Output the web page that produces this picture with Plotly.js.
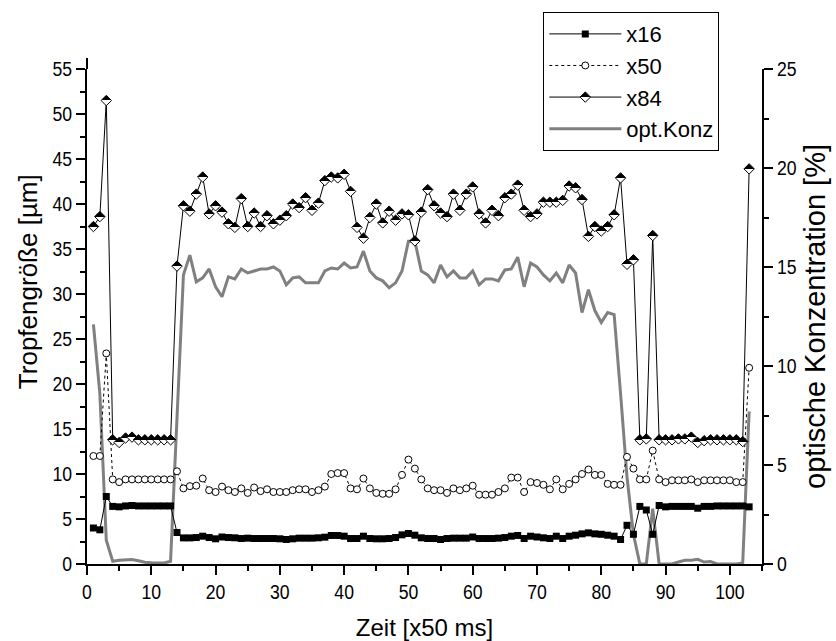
<!DOCTYPE html>
<html>
<head>
<meta charset="utf-8">
<script src="https://cdn.plot.ly/plotly-3.0.1.min.js"></script>
<style>body{margin:0;background:#fff;} #chart{width:836px;height:641px;}</style>
</head>
<body>
<div id="chart"></div>
<script>
// Zeit [x50 ms]
const zeit = Array.from({length: 103}, (_, i) => i + 1);

const x16 = [4.0,3.8,7.5,6.4,6.35,6.45,6.5,6.45,6.45,6.45,6.45,6.45,6.45,3.5,2.9,2.9,2.94,3.09,2.94,2.8,
  3.0,2.94,2.91,2.83,2.87,2.83,2.83,2.83,2.83,2.8,2.72,2.8,2.87,2.87,2.87,2.91,2.98,3.17,3.17,3.09,
  2.83,2.83,3.09,2.83,2.8,2.8,2.83,2.94,3.24,3.39,3.2,2.91,2.83,2.83,2.72,2.83,2.87,2.87,2.87,3.0,
  2.83,2.83,2.83,2.87,2.94,3.09,3.17,2.83,3.09,3.0,2.91,2.83,3.09,2.83,3.09,3.2,3.35,3.46,3.35,3.3,
  3.2,3.09,2.72,4.3,3.3,6.4,6.0,3.3,6.5,6.35,6.4,6.4,6.4,6.4,6.2,6.4,6.4,6.45,6.45,6.45,
  6.45,6.45,6.35];

const x50 = [12.0,12.0,23.4,9.4,9.1,9.4,9.4,9.4,9.4,9.4,9.4,9.4,9.4,10.3,8.4,8.65,8.7,9.5,8.2,8.0,
  8.6,8.2,8.0,8.4,7.9,8.5,8.1,8.3,8.0,8.0,8.0,8.2,8.3,8.3,8.0,8.2,8.6,10.0,10.1,10.1,
  8.4,8.3,9.5,8.4,7.9,7.8,7.8,8.3,9.9,11.6,10.6,9.4,8.4,8.2,8.2,7.9,8.4,8.2,8.4,8.7,
  7.7,7.7,7.7,8.0,8.4,9.6,9.6,8.0,9.1,9.0,8.8,8.3,9.4,8.3,8.9,9.4,10.0,10.5,9.9,9.9,
  8.9,8.8,8.8,11.9,10.6,9.4,9.4,12.6,9.4,9.1,9.3,9.3,9.3,9.4,9.1,9.3,9.3,9.3,9.3,9.3,
  9.1,9.1,21.8];

const x84 = [37.5,38.6,51.5,13.8,13.5,14.0,14.1,13.8,13.8,13.8,13.8,13.8,13.8,33.1,39.8,39.2,41.1,43.0,38.9,39.8,
  39.1,37.8,37.4,40.6,37.5,39.0,37.5,38.7,37.8,38.2,38.7,40.0,39.6,40.7,39.3,40.1,42.6,43.0,42.9,43.3,
  41.4,37.4,36.2,38.5,40.0,37.9,39.2,38.2,38.9,38.8,35.9,39.1,41.6,39.8,39.0,38.6,41.1,39.3,41.1,41.9,
  38.9,37.9,39.3,38.7,40.7,41.1,42.1,39.3,38.6,38.9,40.2,40.2,40.2,40.4,42.0,41.8,40.5,36.4,37.5,37.0,
  37.5,38.8,42.9,33.3,33.8,13.8,13.9,36.5,13.8,13.8,13.8,13.9,13.9,14.1,13.5,13.7,13.8,13.8,13.8,13.8,
  13.8,13.6,43.9];

const optKonz = [12.1,8.6,1.2,0.14,0.19,0.2,0.23,0.16,0.09,0.06,0.05,0.05,0.14,7.5,14.6,15.6,14.25,14.45,14.9,14.0,
  13.5,14.5,14.4,14.9,14.7,14.8,14.9,14.9,15.0,14.8,14.1,14.45,14.5,14.2,14.2,14.2,14.8,14.95,14.9,15.2,
  14.95,15.0,15.8,14.8,14.45,14.3,13.95,14.2,14.8,16.3,16.3,14.8,14.6,14.2,15.1,14.5,14.8,14.45,14.45,14.8,
  14.1,14.4,14.4,14.3,14.85,14.9,15.5,14.0,15.2,15.0,14.6,14.3,14.7,14.2,15.1,14.7,12.7,13.85,12.8,12.2,
  12.7,12.6,8.6,4.4,1.5,0.0,0.0,2.8,0.0,0.0,0.0,0.1,0.19,0.19,0.24,0.1,0.12,0.0,0.0,0.0,
  0.0,0.05,7.7];

const seriesNames = ['x16', 'x50', 'x84', 'opt.Konz'];
const xTitle = 'Zeit [x50 ms]';
const yLeftTitle = 'Tropfengröße [µm]';
const yRightTitle = 'optische Konzentration [%]';

const fam = '"Liberation Sans", Arial, sans-serif';
const tickFont = {family: fam, size: 20, color: '#000'};
const xTitleFont = {family: fam, size: 24, color: '#000'};
const yTitleFont = {family: fam, size: 29, color: '#000'};
const yLeftTitleFont = {family: fam, size: 26, color: '#000'};

const traces = [
  { // drawn first so it sits underneath
    x: zeit, y: optKonz, name: seriesNames[3], yaxis: 'y', mode: 'lines',
    line: {color: '#808080', width: 3}, legendrank: 4
  },
  {
    x: zeit, y: x16, name: seriesNames[0], yaxis: 'y2', mode: 'lines+markers',
    line: {color: '#000', width: 1},
    marker: {symbol: 'square', size: 7, color: '#000'}, legendrank: 1
  },
  {
    x: zeit, y: x50, name: seriesNames[1], yaxis: 'y2', mode: 'lines+markers',
    line: {color: '#000', width: 1, dash: 'dot'},
    marker: {symbol: 'circle', size: 7, color: '#fff', line: {color: '#000', width: 1}}, legendrank: 2
  },
  {
    x: zeit, y: x84, name: seriesNames[2], yaxis: 'y2', mode: 'lines+markers',
    line: {color: '#000', width: 1},
    marker: {symbol: 'diamond', size: 8, color: '#000', gradient: {type: 'vertical', color: '#fff'},
             line: {color: '#000', width: 1}}, legendrank: 3
  }
];

const layout = {
  width: 836, height: 641,
  margin: {l: 87, r: 74, t: 69, b: 77},
  paper_bgcolor: '#fff', plot_bgcolor: '#fff',
  showlegend: true,
  legend: {
    x: 0.676, y: 1.115, xanchor: 'left', yanchor: 'top',
    bordercolor: '#000', borderwidth: 1, bgcolor: '#fff',
    font: {family: fam, size: 22, color: '#000'},
    tracegroupgap: 0, itemwidth: 72
  },
  xaxis: {
    range: [0, 105], dtick: 10, tick0: 0,
    showline: true, linecolor: '#000', linewidth: 2, mirror: false,
    ticks: 'outside', ticklen: 9, tickwidth: 2, tickcolor: '#000',
    minor: {dtick: 5, ticks: 'outside', ticklen: 5, tickwidth: 2, tickcolor: '#000'},
    showgrid: false, zeroline: false, tickfont: tickFont,
    title: {text: xTitle, font: xTitleFont, standoff: 18}
  },
  yaxis: {
    range: [0, 25], dtick: 5, tick0: 0, side: 'right',
    showline: true, linecolor: '#000', linewidth: 2,
    ticks: 'outside', ticklen: 9, tickwidth: 2, tickcolor: '#000',
    minor: {dtick: 2.5, ticks: 'outside', ticklen: 5, tickwidth: 2, tickcolor: '#000'},
    showgrid: false, zeroline: false, tickfont: tickFont,
    title: {text: yRightTitle, font: yTitleFont, standoff: 0}
  },
  yaxis2: {
    range: [0, 55], dtick: 5, tick0: 0, side: 'left', overlaying: 'y',
    showline: true, linecolor: '#000', linewidth: 2,
    ticks: 'outside', ticklen: 9, tickwidth: 2, tickcolor: '#000',
    minor: {dtick: 2.5, ticks: 'outside', ticklen: 5, tickwidth: 2, tickcolor: '#000'},
    showgrid: false, zeroline: false, tickfont: tickFont
  },
  annotations: [{
    text: yLeftTitle, font: yLeftTitleFont, textangle: -90,
    xref: 'paper', yref: 'paper', x: -0.087, y: 0.57,
    xanchor: 'center', yanchor: 'middle', showarrow: false
  }],
  shapes: [{
    type: 'line', xref: 'paper', yref: 'paper', x0: 0, x1: 0, y0: 1, y1: 1.022,
    line: {color: '#000', width: 2}
  }]
};

Plotly.newPlot('chart', traces, layout, {displayModeBar: false, staticPlot: true}).then(function (gd) {
  const ns = 'http://www.w3.org/2000/svg';
  // sharp half/half split for the diamond markers (top black, bottom white)
  gd.querySelectorAll('linearGradient').forEach(function (g) {
    const stops = g.querySelectorAll('stop');
    if (stops.length !== 2) return;
    const a = stops[0], b = stops[1];
    [a, b].forEach(function (s) {
      const c = document.createElementNS(ns, 'stop');
      c.setAttribute('offset', '50%');
      c.setAttribute('stop-color', s.getAttribute('stop-color'));
      if (s.getAttribute('stop-opacity')) c.setAttribute('stop-opacity', s.getAttribute('stop-opacity'));
      g.insertBefore(c, b);
    });
  });
  // slightly condensed look for the tick numbers
  gd.querySelectorAll('g.xtick text, g.ytick text, g.y2tick text').forEach(function (t) {
    const w = t.getComputedTextLength();
    if (w > 0) {
      t.setAttribute('textLength', (w * 0.88).toFixed(1));
      t.setAttribute('lengthAdjust', 'spacingAndGlyphs');
    }
  });
});
</script>
</body>
</html>
